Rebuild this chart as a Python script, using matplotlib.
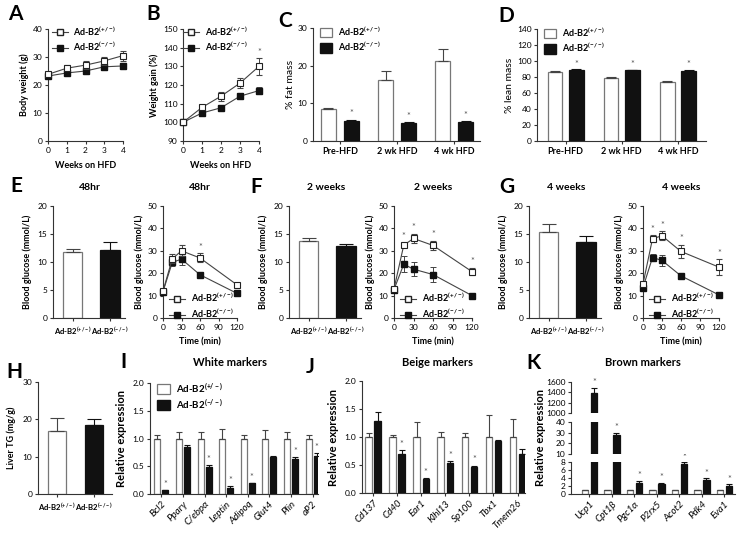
import numpy as np
import matplotlib
matplotlib.use('Agg')
import matplotlib.pyplot as plt
from matplotlib.lines import Line2D
from matplotlib.patches import Patch

plt.rcParams['font.family'] = ['Lato', 'DejaVu Sans']
plt.rcParams['mathtext.fontset'] = 'custom'
plt.rcParams['mathtext.rm'] = 'Lato:bold'
plt.rcParams['mathtext.it'] = 'Lato:italic'
plt.rcParams['mathtext.bf'] = 'Lato:bold'

HET = r'Ad-B2$^{(+/-)}$'
KO = r'Ad-B2$^{(-/-)}$'

# A - body weight
weeks = [0, 1, 2, 3, 4]
bw_het = [23.8, 26.0, 27.1, 28.6, 30.5]
bw_het_err = [0.9, 1.0, 1.4, 1.5, 1.8]
bw_ko = [23.2, 24.3, 25.0, 26.5, 26.8]
bw_ko_err = [0.8, 0.8, 0.9, 1.3, 1.2]

# B - weight gain
wg_het = [100, 108, 114, 121, 130]
wg_het_err = [0, 1.5, 2.5, 2.5, 4.5]
wg_ko = [100, 105, 107.8, 114, 117]
wg_ko_err = [0, 1.0, 0.8, 1.5, 1.8]
wg_star = [0, 0, 0, 0, 1]

# C / D - body composition
hfd_groups = ['Pre-HFD', '2 wk HFD', '4 wk HFD']
fat_het = [8.5, 16.2, 21.2]
fat_het_err = [0.3, 2.4, 3.1]
fat_ko = [5.4, 4.85, 5.1]
fat_ko_err = [0.3, 0.2, 0.3]
lean_het = [86.6, 78.4, 73.4]
lean_het_err = [0.6, 2.2, 2.2]
lean_ko = [89.0, 88.3, 88.0]
lean_ko_err = [0.6, 0.6, 0.6]

# E / F / G - fasting glucose and GTT
gtt_titles = ['48hr', '2 weeks', '4 weeks']
fast_het = [11.7, 13.7, 15.3]
fast_het_err = [0.6, 0.6, 1.4]
fast_ko = [12.2, 12.8, 13.5]
fast_ko_err = [1.3, 0.5, 1.1]
gtt_time = [0, 15, 30, 60, 120]
gtt_het = [[12.0, 26.4, 30.0, 26.8, 14.8],
           [13.0, 32.5, 35.5, 32.4, 20.7],
           [15.2, 35.4, 36.7, 29.7, 22.7]]
gtt_het_err = [[1.0, 2.0, 2.5, 2.0, 1.0],
               [1.0, 1.0, 2.0, 2.0, 1.5],
               [1.0, 1.5, 2.0, 3.0, 3.5]]
gtt_ko = [[11.8, 24.8, 26.3, 19.3, 11.0],
          [12.7, 24.0, 21.8, 19.4, 10.0],
          [13.6, 27.0, 25.7, 18.8, 10.3]]
gtt_ko_err = [[1.0, 1.5, 2.5, 1.2, 1.2],
              [1.0, 3.5, 3.0, 3.5, 0.5],
              [1.0, 1.5, 2.5, 1.0, 0.8]]
gtt_star = [[0, 0, 0, 1, 0],
            [0, 1, 1, 1, 1],
            [0, 1, 1, 1, 1]]

# H - liver TG
tg_het, tg_het_err = 16.8, 3.5
tg_ko, tg_ko_err = 18.6, 1.4

# I - white markers
white_genes = ['Bcl2', 'Pparγ', 'C/ebpα', 'Leptin', 'Adipoq', 'Glut4', 'Plin', 'aP2']
white_het_err = [0.07, 0.12, 0.12, 0.17, 0.07, 0.15, 0.12, 0.07]
white_ko = [0.066, 0.84, 0.48, 0.11, 0.19, 0.66, 0.63, 0.68]
white_ko_err = [0.01, 0.05, 0.04, 0.03, 0.01, 0.03, 0.03, 0.05]
white_star = [1, 0, 1, 1, 1, 0, 1, 1]

# J - beige markers
beige_genes = ['Cd137', 'Cd40', 'Ear1', 'Klhl13', 'Sp100', 'Tbx1', 'Tmem26']
beige_het_err = [0.08, 0.04, 0.27, 0.09, 0.07, 0.4, 0.32]
beige_ko = [1.29, 0.70, 0.25, 0.54, 0.47, 0.93, 0.69]
beige_ko_err = [0.15, 0.07, 0.02, 0.03, 0.02, 0.01, 0.09]
beige_star = [0, 1, 1, 1, 1, 0, 0]

# K - brown markers
brown_genes = ['Ucp1', 'Cpt1β', 'Pgc1α', 'P2rx5', 'Acot2', 'Pdk4', 'Eva1']
brown_het_err = [0.1, 0.1, 0.1, 0.1, 0.1, 0.1, 0.1]
brown_ko = [1380, 28, 2.8, 2.6, 7.4, 3.6, 2.0]
brown_ko_err = [110, 2.0, 0.4, 0.2, 0.5, 0.3, 0.4]

W, H = 743, 534
fig = plt.figure(figsize=(W / 100, H / 100), dpi=100)
AX = '#333333'
GR = '#555555'


def add_ax(l, t, r, b):
    ax = fig.add_axes([l / W, 1 - b / H, (r - l) / W, (b - t) / H])
    for s in ['top', 'right']:
        ax.spines[s].set_visible(False)
    for s in ['left', 'bottom']:
        ax.spines[s].set_color(AX)
        ax.spines[s].set_linewidth(0.8)
    ax.tick_params(labelsize=6, length=2.5, width=0.8, color=AX, pad=1.5)
    return ax


def ftext(x, y, s, **kw):
    fig.text(x / W, 1 - y / H, s, ha='center', va='center', **kw)


def star(ax, x, y):
    ax.text(x, y, '*', ha='center', va='bottom', fontsize=6.5, color=GR, clip_on=False)


def bars(ax, x, het, het_err, ko, ko_err, width, off, cap=2.5):
    x = np.asarray(x, dtype=float)
    n = len(x)
    ax.bar(x - off, het, width, color='white', edgecolor='#777777', lw=0.9, zorder=2)
    ax.bar(x + off, ko, width, color='#111111', edgecolor='#111111', lw=0.9, zorder=2)
    ax.errorbar(x - off, het, yerr=[np.zeros(n), het_err], fmt='none', ecolor='#444444',
                elinewidth=0.8, capsize=cap, capthick=0.8, zorder=3)
    ax.errorbar(x + off, ko, yerr=[np.zeros(n), ko_err], fmt='none', ecolor='#111111',
                elinewidth=0.8, capsize=cap, capthick=0.8, zorder=3)


def two_bars(ax, het, het_err, ko, ko_err, width):
    ax.bar([0], [het], width, color='white', edgecolor='#777777', lw=0.9, zorder=2)
    ax.bar([1], [ko], width, color='#111111', edgecolor='#111111', lw=0.9, zorder=2)
    ax.errorbar([0], [het], yerr=[[0], [het_err]], fmt='none', ecolor='#444444',
                elinewidth=0.8, capsize=5, capthick=0.8, zorder=3)
    ax.errorbar([1], [ko], yerr=[[0], [ko_err]], fmt='none', ecolor='#111111',
                elinewidth=0.8, capsize=5, capthick=0.8, zorder=3)
    ax.set_xticks([0, 1])
    ax.set_xticklabels([HET, KO], fontweight='bold', fontsize=5.6)
    ax.tick_params(axis='x', pad=2.5)


def line_pair(ax, t, het, het_err, ko, ko_err, ms=4):
    ax.errorbar(t, ko, yerr=ko_err, color='#444444', lw=0.8, marker='s', ms=ms,
                mfc='#111111', mec='#111111', capsize=2, elinewidth=0.7, capthick=0.7,
                clip_on=False, zorder=3)
    ax.errorbar(t, het, yerr=het_err, color='#444444', lw=0.8, marker='s', ms=ms,
                mfc='white', mec='#222222', mew=0.8, capsize=2, elinewidth=0.7, capthick=0.7,
                clip_on=False, zorder=4)


def line_legend(ax, anchor, fs=6.5):
    hs = [Line2D([], [], color='#444444', lw=0.8, marker='s', ms=4, mfc='white', mec='#222222'),
          Line2D([], [], color='#444444', lw=0.8, marker='s', ms=4, mfc='#111111', mec='#111111')]
    ax.legend(hs, [HET, KO], loc='upper left', bbox_to_anchor=anchor, frameon=False,
              prop={'size': fs, 'weight': 'bold'}, handlelength=1.8, handletextpad=0.6,
              labelspacing=0.3, borderaxespad=0, borderpad=0)


def bar_legend(ax, anchor, fs=6.5):
    hs = [Patch(facecolor='white', edgecolor='#777777', lw=0.9),
          Patch(facecolor='#111111', edgecolor='#111111')]
    ax.legend(hs, [HET, KO], loc='upper left', bbox_to_anchor=anchor, frameon=False,
              prop={'size': fs, 'weight': 'bold'}, handlelength=1.4, handleheight=1.2,
              handletextpad=0.6, labelspacing=0.25, borderaxespad=0, borderpad=0)


lab = dict(fontsize=6.5, fontweight='bold')

# ---------- A ----------
ax = add_ax(48, 29, 123, 141)
line_pair(ax, weeks, bw_het, bw_het_err, bw_ko, bw_ko_err)
ax.set_xlim(0, 4)
ax.set_ylim(0, 40)
ax.set_xticks(weeks)
ax.set_yticks([0, 10, 20, 30, 40])
ax.set_xlabel('Weeks on HFD', labelpad=5, **lab)
ax.set_ylabel('Body weight (g)', labelpad=3, **lab)
line_legend(ax, (0.05, 1.04))

# ---------- B ----------
ax = add_ax(183, 29, 259, 141)
line_pair(ax, weeks, wg_het, wg_het_err, wg_ko, wg_ko_err)
for i, s in enumerate(wg_star):
    if s:
        star(ax, weeks[i], wg_het[i] + wg_het_err[i] + 0.5)
ax.set_xlim(0, 4)
ax.set_ylim(90, 150)
ax.set_xticks(weeks)
ax.set_yticks(range(90, 151, 10))
ax.set_xlabel('Weeks on HFD', labelpad=5, **lab)
ax.set_ylabel('Weight gain (%)', labelpad=3, **lab)
line_legend(ax, (0.0, 1.04))

# ---------- C ----------
ax = add_ax(313, 28, 480, 141)
gx = np.arange(3)
bars(ax, gx, fat_het, fat_het_err, fat_ko, fat_ko_err, 0.26, 0.2, cap=3.5)
for i in range(3):
    star(ax, gx[i] + 0.2, fat_ko[i] + fat_ko_err[i] + 0.3)
ax.set_xlim(-0.47, 2.45)
ax.set_ylim(0, 30)
ax.set_yticks([0, 10, 20, 30])
ax.set_xticks(gx)
ax.set_xticklabels(hfd_groups, fontweight='bold', fontsize=6.5)
ax.set_ylabel('% fat mass', labelpad=2, fontsize=7.5)
bar_legend(ax, (0.04, 1.03))

# ---------- D ----------
ax = add_ax(537, 29, 706, 141)
bars(ax, gx, lean_het, lean_het_err, lean_ko, lean_ko_err, 0.26, 0.19, cap=3.5)
for i in range(3):
    star(ax, gx[i] + 0.19, lean_ko[i] + lean_ko_err[i] + 1.0)
ax.set_xlim(-0.51, 2.5)
ax.set_ylim(0, 140)
ax.set_yticks(range(0, 141, 20))
ax.set_xticks(gx)
ax.set_xticklabels(hfd_groups, fontweight='bold', fontsize=6.5)
ax.set_ylabel('% lean mass', labelpad=2, fontsize=7.5)
bar_legend(ax, (0.04, 1.03))

# ---------- E, F, G ----------
bar_left = [53, 289, 529]
line_lr = [(163, 237), (394, 472), (643, 719)]
for k in range(3):
    l = bar_left[k]
    ax = add_ax(l, 206, l + 72, 318)
    two_bars(ax, fast_het[k], fast_het_err[k], fast_ko[k], fast_ko_err[k], 0.52)
    ax.set_xlim(-0.52, 1.39)
    ax.set_ylim(0, 20)
    ax.set_yticks([0, 5, 10, 15, 20])
    ax.set_ylabel('Blood glucose (mmol/L)', labelpad=4, **lab)
    ftext(l + 37, 187, gtt_titles[k], fontsize=7.5, fontweight='bold')

    ll, lr = line_lr[k]
    ax = add_ax(ll, 206, lr, 318)
    line_pair(ax, gtt_time, gtt_het[k], gtt_het_err[k], gtt_ko[k], gtt_ko_err[k])
    for i, s in enumerate(gtt_star[k]):
        if s:
            star(ax, gtt_time[i], gtt_het[k][i] + gtt_het_err[k][i] + 0.8)
    ax.set_xlim(0, 120)
    ax.set_ylim(0, 50)
    ax.set_xticks([0, 30, 60, 90, 120])
    ax.set_yticks(range(0, 51, 10))
    ax.set_xlabel('Time (min)', labelpad=5, **lab)
    ax.set_ylabel('Blood glucose (mmol/L)', labelpad=3, **lab)
    line_legend(ax, (0.08, 0.24))
    ftext((ll + lr) / 2, 187, gtt_titles[k], fontsize=7.5, fontweight='bold')

# ---------- H ----------
ax = add_ax(38, 382, 112, 494)
two_bars(ax, tg_het, tg_het_err, tg_ko, tg_ko_err, 0.5)
ax.set_xlim(-0.52, 1.5)
ax.set_ylim(0, 30)
ax.set_yticks([0, 10, 20, 30])
ax.set_ylabel('Liver TG (mg/g)', labelpad=5, **lab)


def gene_panel(ax, genes, het_err, ko, ko_err, stars, width, off, xlim):
    x = np.arange(len(genes))
    bars(ax, x, np.ones(len(genes)), het_err, ko, ko_err, width, off, cap=2)
    for i, s in enumerate(stars):
        if s:
            star(ax, x[i] + off, ko[i] + ko_err[i] + 0.02)
    ax.set_xlim(*xlim)
    ax.set_ylim(0, 2.0)
    ax.set_yticks([0, 0.5, 1.0, 1.5, 2.0])
    ax.set_yticklabels(['0.0', '0.5', '1.0', '1.5', '2.0'])
    ax.set_xticks(x)
    ax.set_xticklabels(genes, rotation=45, ha='right', rotation_mode='anchor',
                       fontstyle='italic', fontsize=7)
    ax.set_ylabel('Relative expression', labelpad=4, fontsize=8, fontweight='bold')


# ---------- I ----------
ax = add_ax(150, 383, 318, 494)
gene_panel(ax, white_genes, white_het_err, white_ko, white_ko_err, white_star,
           0.28, 0.185, (-0.53, 7.25))
bar_legend(ax, (0.04, 1.02), fs=7)
ftext(230, 363, 'White markers', fontsize=8, fontweight='bold')

# ---------- J ----------
ax = add_ax(362, 381, 525, 493)
gene_panel(ax, beige_genes, beige_het_err, beige_ko, beige_ko_err, beige_star,
           0.27, 0.19, (-0.46, 6.31))
ftext(438, 362, 'Beige markers', fontsize=8, fontweight='bold')

# ---------- K (broken axis) ----------
bx = np.arange(len(brown_genes))
k_parts = [((571, 462, 735, 494), (0, 8), [0, 2, 4, 6, 8]),
           ((571, 422, 735, 454), (10, 40), [10, 20, 30, 40]),
           ((571, 382, 735, 413), (1000, 1600), [1000, 1200, 1400, 1600])]
k_axes = []
for (l, t, r, b), ylim, yt in k_parts:
    ax = add_ax(l, t, r, b)
    bars(ax, bx, np.ones(len(bx)), brown_het_err, brown_ko, brown_ko_err, 0.29, 0.2, cap=2)
    ax.set_xlim(-0.82, 6.47)
    ax.set_ylim(*ylim)
    ax.set_yticks(yt)
    k_axes.append(ax)
for ax in k_axes[1:]:
    ax.spines['bottom'].set_visible(False)
    ax.set_xticks([])
k0 = k_axes[0]
k0.set_xticks(bx)
k0.set_xticklabels(brown_genes, rotation=45, ha='right', rotation_mode='anchor',
                   fontstyle='italic', fontsize=7)
for i in range(len(bx)):
    top = brown_ko[i] + brown_ko_err[i]
    if top > 1000:
        star(k_axes[2], bx[i] + 0.2, top + 20)
    elif top > 10:
        star(k_axes[1], bx[i] + 0.2, top + 1)
    else:
        star(k0, bx[i] + 0.2, top + 0.2)
fig.text(540 / W, 1 - 438 / H, 'Relative expression', rotation=90, ha='center', va='center',
         fontsize=8, fontweight='bold')
ftext(643, 363, 'Brown markers', fontsize=8, fontweight='bold')

# ---------- panel letters ----------
letters = [('A', 15, 14), ('B', 153, 14), ('C', 285, 21), ('D', 506, 16),
           ('E', 16, 186), ('F', 256, 187), ('G', 507, 187),
           ('H', 14, 372), ('I', 124, 362), ('J', 310, 367), ('K', 534, 363)]
for s, x, y in letters:
    ftext(x, y, s, fontsize=15, fontweight='bold')

fig.savefig('out.png', dpi=100)
